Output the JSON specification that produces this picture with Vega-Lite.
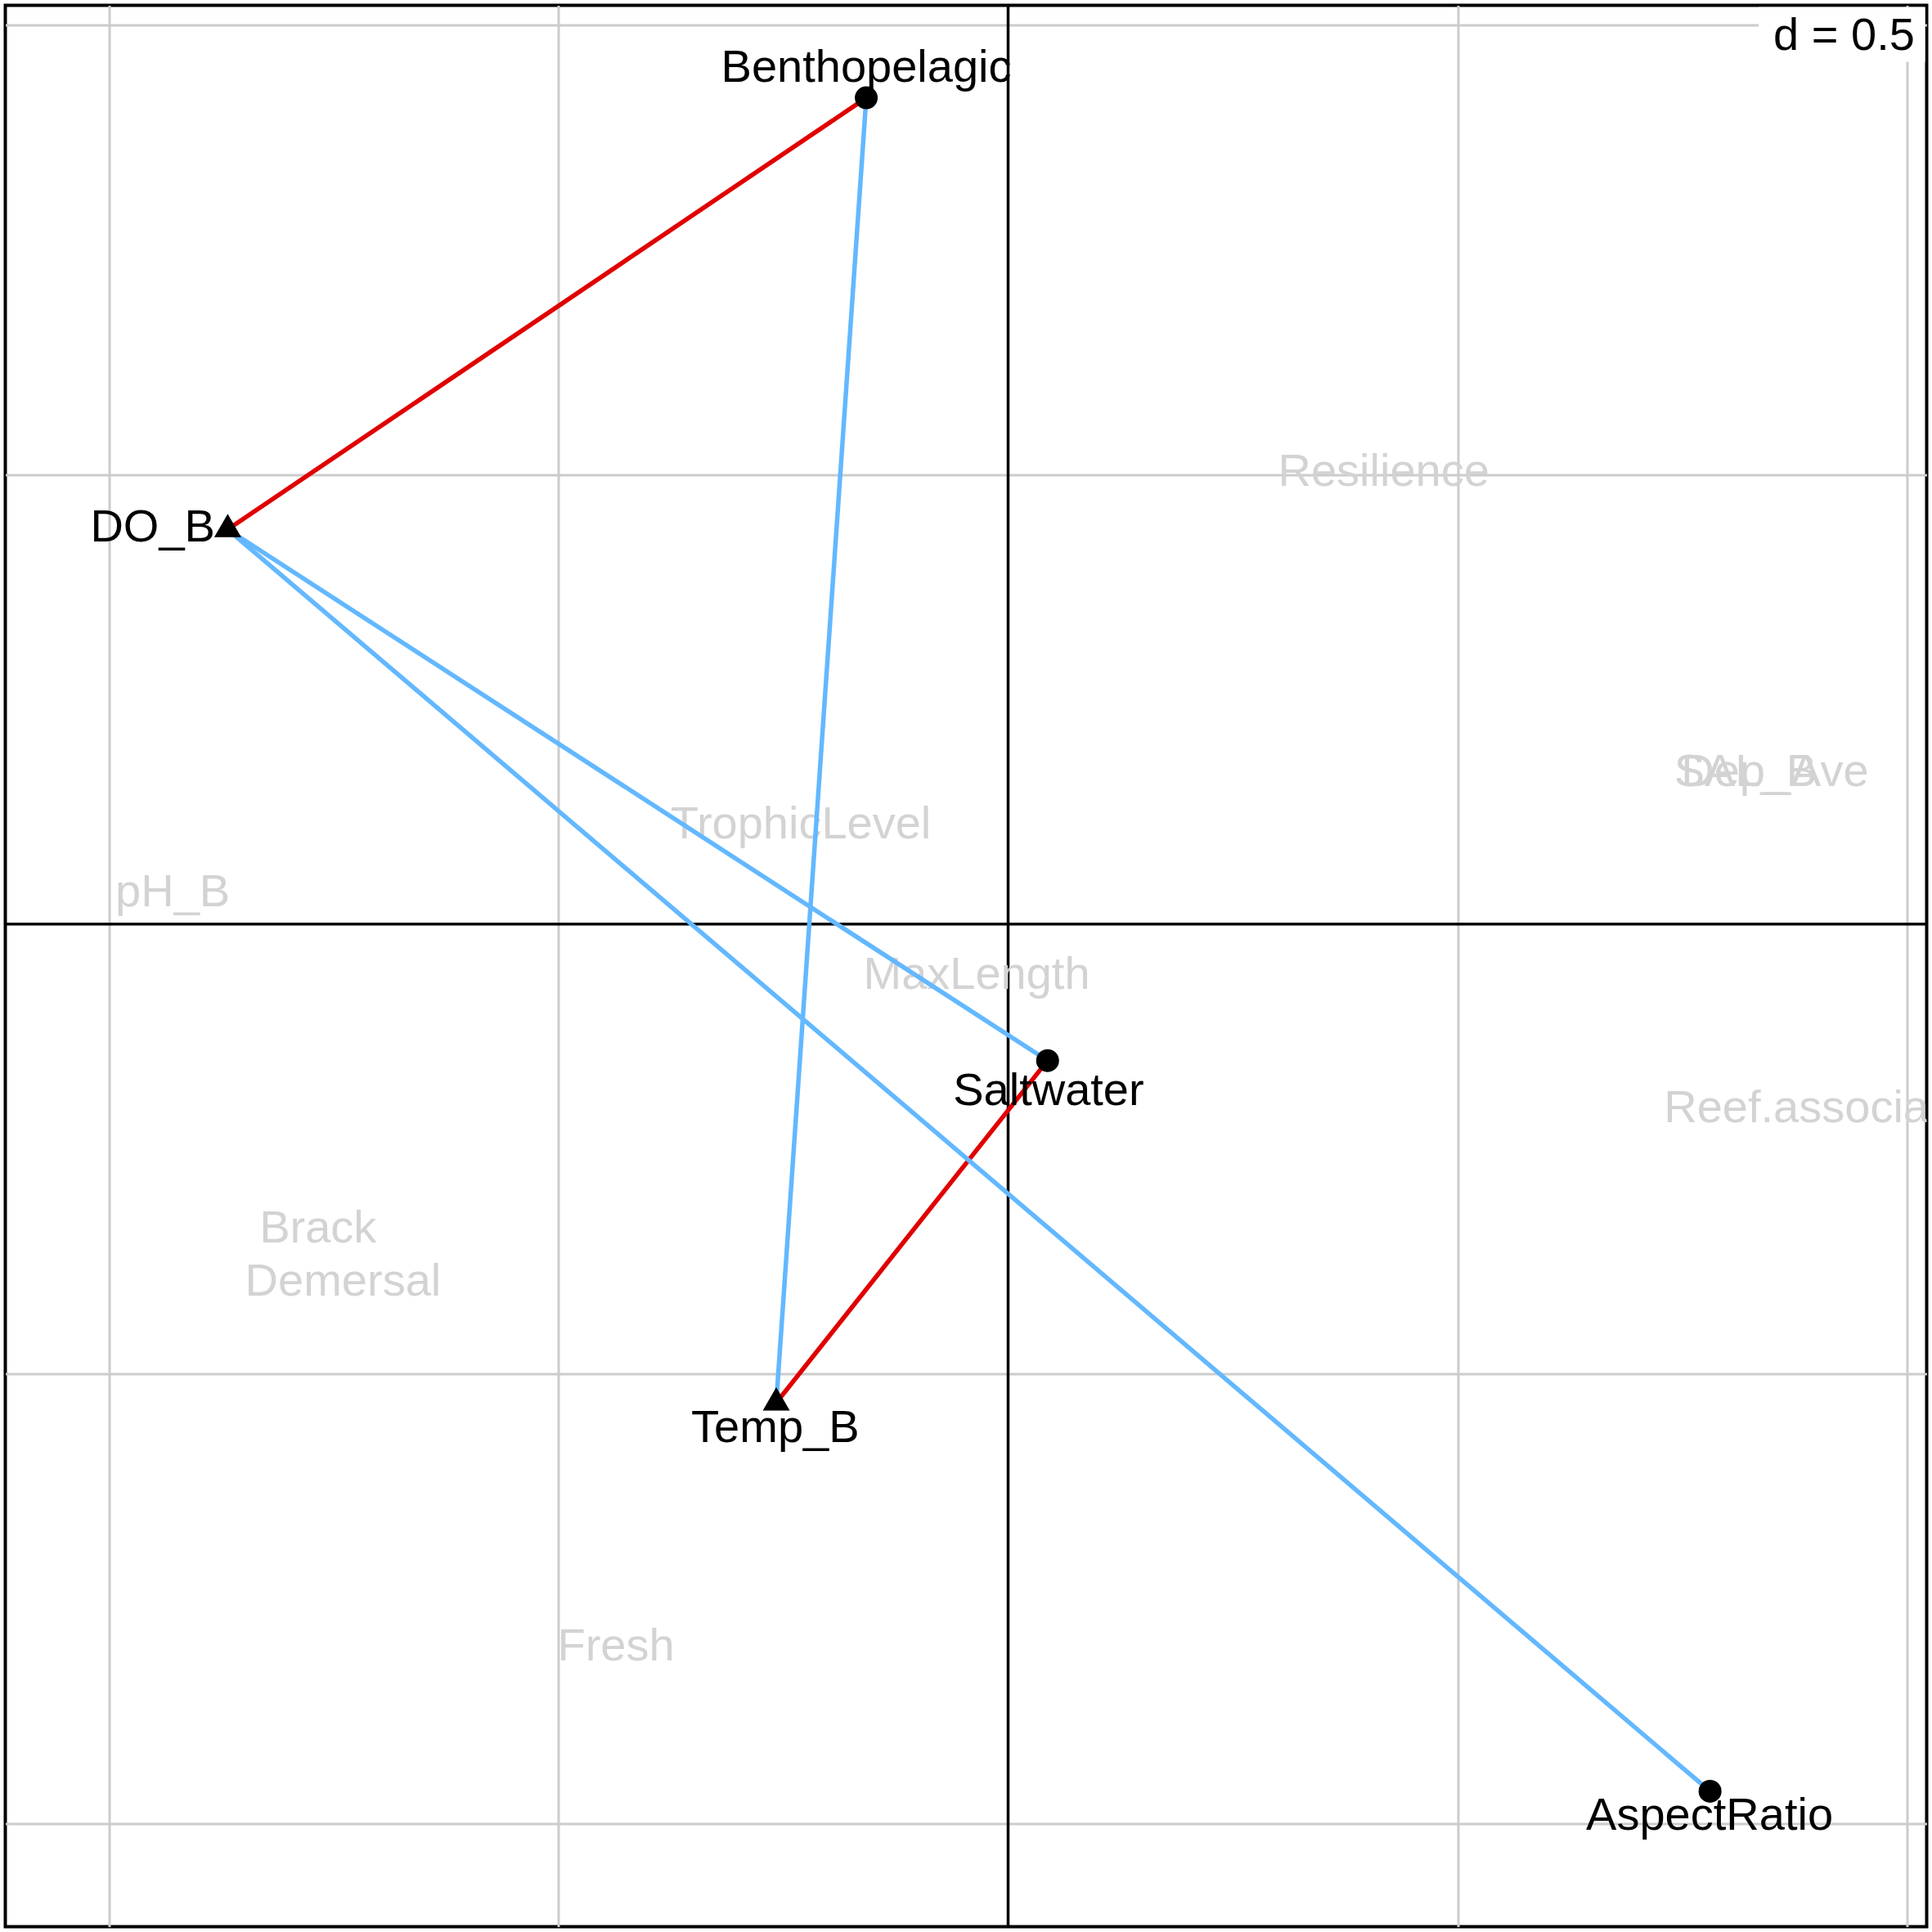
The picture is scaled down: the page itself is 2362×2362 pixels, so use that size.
{
  "$schema": "https://vega.github.io/schema/vega-lite/v6.json",
  "width": 2349,
  "height": 2349,
  "autosize": {"type": "none"},
  "padding": {"left": 6.5, "top": 6.5, "right": 6.5, "bottom": 6.5},
  "background": "white",
  "config": {
    "view": {"stroke": "black", "strokeWidth": 4},
    "text": {"font": "Liberation Sans", "fontSize": 56}
  },
  "datasets": {
    "points": [
      {"label": "Benthopelagic", "kind": "trait", "x": -0.1578, "y": 0.9189},
      {"label": "DO_B", "kind": "env", "x": -0.8681, "y": 0.4389},
      {"label": "Saltwater", "kind": "trait", "x": 0.0439, "y": -0.1518},
      {"label": "Temp_B", "kind": "env", "x": -0.2579, "y": -0.5323},
      {"label": "AspectRatio", "kind": "trait", "x": 0.7808, "y": -0.9644}
    ],
    "labels": [
      {"label": "Benthopelagic", "x": -0.1578, "y": 0.9363},
      {"label": "DO_B", "x": -0.9516, "y": 0.4253},
      {"label": "Saltwater", "x": 0.045, "y": -0.2015},
      {"label": "Temp_B", "x": -0.259, "y": -0.5763},
      {"label": "AspectRatio", "x": 0.7803, "y": -1.0075}
    ],
    "grey": [
      {"label": "Resilience", "x": 0.4178, "y": 0.4874},
      {"label": "TrophicLevel", "x": -0.2306, "y": 0.0953},
      {"label": "pH_B", "x": -0.9293, "y": 0.0202},
      {"label": "MaxLength", "x": -0.035, "y": -0.072},
      {"label": "Reef.associated", "x": 0.9122, "y": -0.2206},
      {"label": "Brack", "x": -0.7677, "y": -0.3542},
      {"label": "Demersal", "x": -0.7398, "y": -0.413},
      {"label": "Fresh", "x": -0.4362, "y": -0.8186},
      {"label": "SAL_B", "x": 0.8201, "y": 0.1533},
      {"label": "Dep_Ave", "x": 0.8529, "y": 0.1533}
    ],
    "links": [
      {"from": "Benthopelagic", "to": "DO_B", "sign": "positive", "x": -0.1578, "y": 0.9189, "x2": -0.8681, "y2": 0.4389},
      {"from": "Saltwater", "to": "Temp_B", "sign": "positive", "x": 0.0439, "y": -0.1518, "x2": -0.2579, "y2": -0.5323},
      {"from": "Benthopelagic", "to": "Temp_B", "sign": "negative", "x": -0.1578, "y": 0.9189, "x2": -0.2579, "y2": -0.5323},
      {"from": "Saltwater", "to": "DO_B", "sign": "negative", "x": 0.0439, "y": -0.1518, "x2": -0.8681, "y2": 0.4389},
      {"from": "AspectRatio", "to": "DO_B", "sign": "negative", "x": 0.7808, "y": -0.9644, "x2": -0.8681, "y2": 0.4389}
    ],
    "zero": [{"x": 0, "y": 0}],
    "legendbox": [{"text": "d = 0.5", "x": 0.8348, "y": 0.959, "x2": 1.02, "y2": 1.0198, "tx": 1.0085, "ty": 0.9718}]
  },
  "layer": [
    {
      "data": {"name": "legendbox"},
      "mark": {"type": "rect", "color": "white", "stroke": null},
      "encoding": {
        "x": {"field": "x", "type": "quantitative", "scale": {"domain": [-1.1155, 1.0218], "nice": false, "zero": false}, "axis": {"values": [-1, -0.5, 0.5, 1], "grid": true, "gridColor": "#cccccc", "gridWidth": 3, "domain": false, "ticks": false, "labels": false, "title": null}},
        "x2": {"field": "x2"},
        "y": {"field": "y", "type": "quantitative", "scale": {"domain": [-1.115, 1.0218], "nice": false, "zero": false}, "axis": {"values": [-1, -0.5, 0.5, 1], "grid": true, "gridColor": "#cccccc", "gridWidth": 3, "domain": false, "ticks": false, "labels": false, "title": null}},
        "y2": {"field": "y2"}
      }
    },
    {
      "data": {"name": "zero"},
      "mark": {"type": "rule", "color": "black", "strokeWidth": 3.5},
      "encoding": {
        "x": {"field": "x", "type": "quantitative"}
      }
    },
    {
      "data": {"name": "zero"},
      "mark": {"type": "rule", "color": "black", "strokeWidth": 3.5},
      "encoding": {
        "y": {"field": "y", "type": "quantitative"}
      }
    },
    {
      "data": {"name": "grey"},
      "mark": {"type": "text", "color": "#d3d3d3", "align": "center", "baseline": "alphabetic", "clip": true},
      "encoding": {
        "x": {"field": "x", "type": "quantitative"},
        "y": {"field": "y", "type": "quantitative"},
        "text": {"field": "label"}
      }
    },
    {
      "data": {"name": "links"},
      "mark": {"type": "rule", "strokeWidth": 5.5, "strokeCap": "round"},
      "encoding": {
        "x": {"field": "x", "type": "quantitative"},
        "y": {"field": "y", "type": "quantitative"},
        "x2": {"field": "x2"},
        "y2": {"field": "y2"},
        "color": {"field": "sign", "type": "nominal", "scale": {"domain": ["positive", "negative"], "range": ["#e00000", "#63b8ff"]}, "legend": null}
      }
    },
    {
      "data": {"name": "points"},
      "transform": [{"filter": "datum.kind === 'trait'"}],
      "mark": {"type": "point", "shape": "circle", "filled": true, "color": "black", "opacity": 1, "size": 784},
      "encoding": {
        "x": {"field": "x", "type": "quantitative"},
        "y": {"field": "y", "type": "quantitative"}
      }
    },
    {
      "data": {"name": "points"},
      "transform": [{"filter": "datum.kind === 'env'"}],
      "mark": {"type": "point", "shape": "M0,-1.1547L1,0.5774L-1,0.5774Z", "filled": true, "color": "black", "opacity": 1, "size": 1089},
      "encoding": {
        "x": {"field": "x", "type": "quantitative"},
        "y": {"field": "y", "type": "quantitative"}
      }
    },
    {
      "data": {"name": "labels"},
      "mark": {"type": "text", "color": "black", "align": "center", "baseline": "alphabetic"},
      "encoding": {
        "x": {"field": "x", "type": "quantitative"},
        "y": {"field": "y", "type": "quantitative"},
        "text": {"field": "label"}
      }
    },
    {
      "data": {"name": "legendbox"},
      "mark": {"type": "text", "color": "black", "align": "right", "baseline": "alphabetic"},
      "encoding": {
        "x": {"field": "tx", "type": "quantitative"},
        "y": {"field": "ty", "type": "quantitative"},
        "text": {"field": "text"}
      }
    }
  ]
}
